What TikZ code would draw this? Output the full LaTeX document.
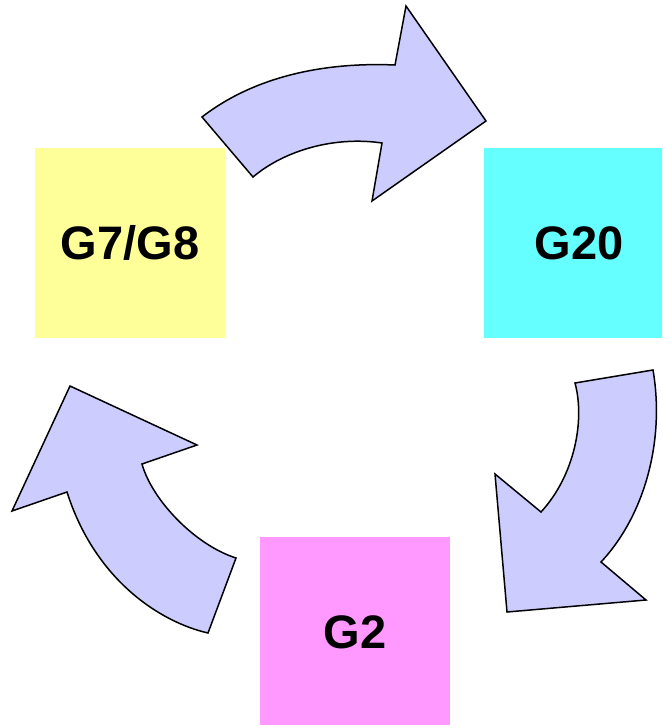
\documentclass[tikz,border=0pt]{standalone}
\usepackage{fontspec}
\setmainfont{Liberation Sans}
\usepackage{xcolor}
\usepackage{tikz}

\definecolor{yellowbox}{RGB}{255,255,153}
\definecolor{cyanbox}{RGB}{102,255,255}
\definecolor{pinkbox}{RGB}{255,153,255}
\definecolor{arrowfill}{RGB}{204,204,255}

\tikzset{
  groupbox/.style={minimum width=190pt, minimum height=190pt, inner sep=0pt,
    font=\fontsize{47}{56}\selectfont\bfseries},
  bentarrow/.style={fill=arrowfill, draw=black, line width=1.5pt, line join=miter}
}

\begin{document}
\begin{tikzpicture}[x=1pt,y=1pt,yscale=-1,xscale=1]
            \clip (0,0) rectangle (662,725);
            \fill[white] (0,0) rectangle (662,725);

            % group boxes
            \node [groupbox, fill=yellowbox] (g78) at (130,243) {G7/G8};
            \node [groupbox, fill=cyanbox] (g20) at (579,243) {G20};
            \node [groupbox, fill=pinkbox] (g2) at (355,632) {G2};

            % top arrow: G7/G8 to G20
            \draw [bentarrow] (202,117) .. controls (255,76) and (325,62) .. (395,65)
                -- (406,6) -- (486,121) -- (372,201) -- (382,143)
                .. controls (335,136) and (285,150) .. (253,177) -- cycle;
            % right arrow: G20 to G2
            \draw [bentarrow] (653,370) .. controls (665,440) and (645,515) .. (601,562)
                -- (646,600) -- (507,612) -- (495,474) -- (541,512)
                .. controls (575,475) and (585,420) .. (575,383) -- cycle;
            % left arrow: G2 to G7/G8
            \draw [bentarrow] (208,633) .. controls (160,622) and (95,580) .. (67,492)
                -- (12,511) -- (70,386) -- (197,445) -- (142,464)
                .. controls (152,500) and (195,545) .. (236,558) -- cycle;
\end{tikzpicture}
\end{document}
